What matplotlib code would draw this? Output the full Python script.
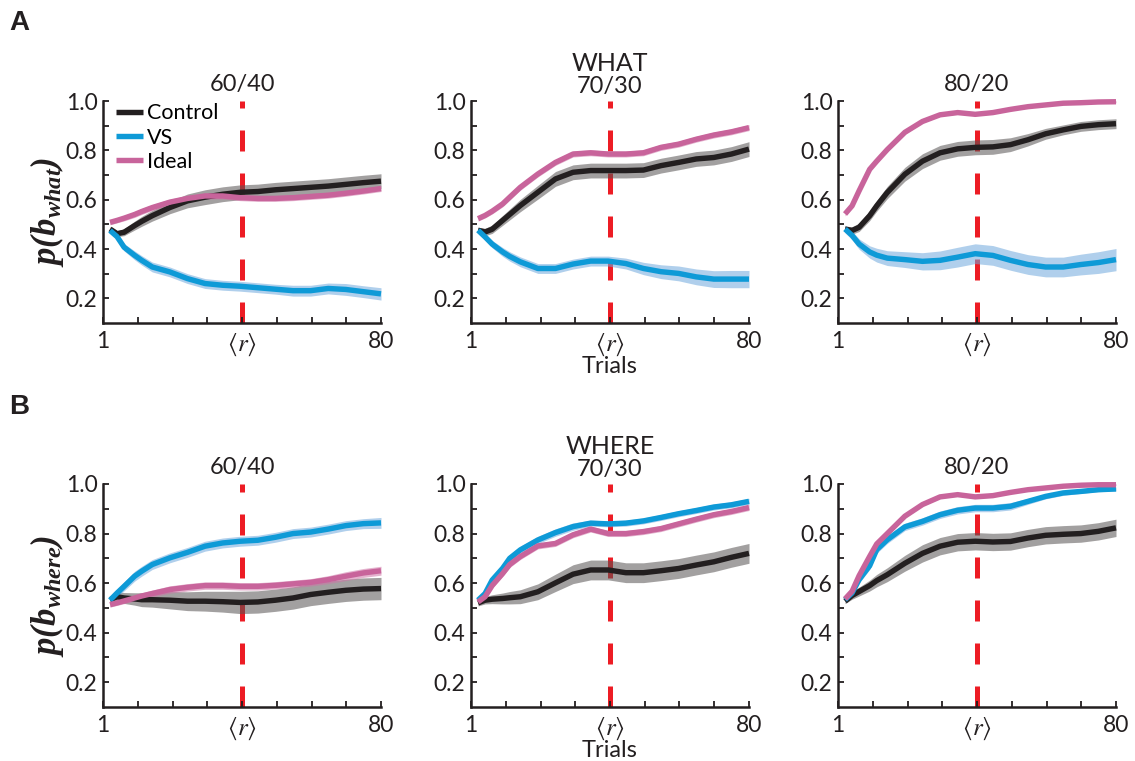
import numpy as np
import matplotlib
matplotlib.use("Agg")
import matplotlib.pyplot as plt

plt.rcParams['font.family'] = ['Lato', 'DejaVu Sans']
plt.rcParams['mathtext.fontset'] = 'custom'
plt.rcParams['mathtext.rm'] = 'STIXGeneral'
plt.rcParams['mathtext.it'] = 'STIXGeneral:italic'
plt.rcParams['mathtext.bf'] = 'Liberation Serif:bold:italic'

# ---------------- data ----------------
trials = [3, 5, 7, 10, 12, 15, 20, 25, 30, 35, 40, 45, 50, 55, 60, 65, 70, 75, 80]
series_names = ["Control", "VS", "Ideal"]
ratio_labels = ["60/40", "70/30", "80/20"]
row_titles = ["WHAT", "WHERE"]
panel_letters = ["A", "B"]
x_tick_labels = ["1", "", "", "", r"$\langle r\rangle$", "", "", "", "80"]
y_tick_labels = ["0.2", "0.4", "0.6", "0.8", "1.0"]
r_mark = 40.5

# WHAT 60/40
what_6040_control = [0.481, 0.462, 0.468, 0.495, 0.512, 0.535, 0.568, 0.595, 0.610, 0.622, 0.630, 0.633, 0.640, 0.645, 0.650, 0.655, 0.662, 0.669, 0.675]
what_6040_vs      = [0.475, 0.450, 0.407, 0.374, 0.354, 0.327, 0.307, 0.280, 0.260, 0.253, 0.249, 0.243, 0.237, 0.231, 0.231, 0.240, 0.236, 0.227, 0.218]
what_6040_ideal   = [0.508, 0.516, 0.525, 0.540, 0.552, 0.568, 0.590, 0.605, 0.615, 0.615, 0.608, 0.605, 0.605, 0.608, 0.613, 0.618, 0.626, 0.635, 0.645]
what_6040_control_sem = [0.010, 0.012, 0.014, 0.018, 0.020, 0.022, 0.025, 0.028, 0.030, 0.030, 0.030, 0.030, 0.030, 0.030, 0.030, 0.030, 0.030, 0.030, 0.030]
what_6040_vs_sem      = [0.010, 0.012, 0.015, 0.018, 0.019, 0.020, 0.020, 0.020, 0.020, 0.020, 0.020, 0.020, 0.020, 0.022, 0.022, 0.022, 0.024, 0.024, 0.025]
what_6040_ideal_sem   = [0.010, 0.010, 0.011, 0.012, 0.012, 0.012, 0.012, 0.012, 0.012, 0.012, 0.012, 0.012, 0.012, 0.012, 0.012, 0.012, 0.012, 0.012, 0.012]

# WHAT 70/30
what_7030_control = [0.476, 0.469, 0.480, 0.516, 0.540, 0.576, 0.630, 0.684, 0.711, 0.718, 0.718, 0.718, 0.720, 0.738, 0.751, 0.765, 0.771, 0.785, 0.805]
what_7030_vs      = [0.476, 0.449, 0.420, 0.388, 0.370, 0.348, 0.321, 0.321, 0.339, 0.351, 0.351, 0.341, 0.321, 0.308, 0.301, 0.287, 0.278, 0.278, 0.278]
what_7030_ideal   = [0.523, 0.536, 0.553, 0.583, 0.610, 0.650, 0.704, 0.751, 0.785, 0.790, 0.785, 0.785, 0.790, 0.812, 0.825, 0.845, 0.862, 0.875, 0.892]
what_7030_control_sem = [0.012, 0.015, 0.017, 0.020, 0.022, 0.025, 0.028, 0.030, 0.030, 0.030, 0.030, 0.030, 0.030, 0.030, 0.030, 0.030, 0.030, 0.030, 0.030]
what_7030_vs_sem      = [0.010, 0.012, 0.015, 0.018, 0.019, 0.020, 0.020, 0.020, 0.020, 0.020, 0.020, 0.022, 0.025, 0.028, 0.030, 0.032, 0.034, 0.035, 0.035]
what_7030_ideal_sem   = [0.010, 0.010, 0.011, 0.012, 0.012, 0.012, 0.012, 0.012, 0.012, 0.012, 0.012, 0.012, 0.012, 0.012, 0.012, 0.012, 0.012, 0.012, 0.012]

# WHAT 80/20
what_8020_control = [0.481, 0.475, 0.488, 0.535, 0.575, 0.629, 0.703, 0.756, 0.790, 0.806, 0.812, 0.814, 0.823, 0.843, 0.867, 0.883, 0.897, 0.904, 0.908]
what_8020_vs      = [0.481, 0.455, 0.420, 0.388, 0.375, 0.363, 0.357, 0.350, 0.354, 0.367, 0.381, 0.374, 0.354, 0.337, 0.327, 0.327, 0.337, 0.345, 0.357]
what_8020_ideal   = [0.542, 0.575, 0.636, 0.723, 0.756, 0.803, 0.873, 0.917, 0.944, 0.953, 0.946, 0.953, 0.966, 0.977, 0.984, 0.991, 0.993, 0.996, 0.997]
what_8020_control_sem = [0.012, 0.015, 0.017, 0.020, 0.022, 0.025, 0.028, 0.030, 0.030, 0.030, 0.030, 0.030, 0.028, 0.025, 0.022, 0.020, 0.020, 0.020, 0.020]
what_8020_vs_sem      = [0.015, 0.018, 0.021, 0.025, 0.028, 0.030, 0.032, 0.035, 0.038, 0.040, 0.040, 0.040, 0.040, 0.040, 0.040, 0.040, 0.042, 0.044, 0.045]
what_8020_ideal_sem   = [0.008, 0.008, 0.008, 0.008, 0.008, 0.008, 0.007, 0.006, 0.006, 0.006, 0.006, 0.006, 0.005, 0.005, 0.005, 0.004, 0.004, 0.004, 0.004]

# WHERE 60/40
where_6040_control = [0.533, 0.545, 0.540, 0.536, 0.533, 0.533, 0.531, 0.527, 0.527, 0.525, 0.522, 0.524, 0.531, 0.540, 0.554, 0.563, 0.571, 0.576, 0.578]
where_6040_vs      = [0.531, 0.560, 0.587, 0.628, 0.648, 0.675, 0.702, 0.724, 0.749, 0.762, 0.769, 0.773, 0.785, 0.800, 0.806, 0.818, 0.832, 0.840, 0.843]
where_6040_ideal   = [0.513, 0.520, 0.528, 0.540, 0.548, 0.558, 0.574, 0.583, 0.590, 0.590, 0.587, 0.587, 0.591, 0.597, 0.603, 0.614, 0.628, 0.641, 0.650]
where_6040_control_sem = [0.015, 0.020, 0.022, 0.025, 0.028, 0.030, 0.035, 0.038, 0.040, 0.042, 0.045, 0.045, 0.045, 0.045, 0.045, 0.045, 0.045, 0.045, 0.045]
where_6040_vs_sem      = [0.010, 0.015, 0.018, 0.020, 0.020, 0.020, 0.020, 0.020, 0.020, 0.020, 0.020, 0.020, 0.020, 0.020, 0.020, 0.020, 0.020, 0.020, 0.022]
where_6040_ideal_sem   = [0.010, 0.010, 0.011, 0.012, 0.013, 0.014, 0.015, 0.015, 0.015, 0.015, 0.015, 0.015, 0.015, 0.015, 0.015, 0.016, 0.018, 0.018, 0.018]

# WHERE 70/30
where_7030_control = [0.520, 0.531, 0.535, 0.538, 0.541, 0.545, 0.565, 0.601, 0.636, 0.653, 0.653, 0.642, 0.642, 0.650, 0.659, 0.673, 0.686, 0.704, 0.720]
where_7030_vs      = [0.531, 0.558, 0.612, 0.660, 0.700, 0.734, 0.774, 0.804, 0.828, 0.842, 0.839, 0.842, 0.851, 0.865, 0.880, 0.893, 0.907, 0.916, 0.930]
where_7030_ideal   = [0.524, 0.545, 0.590, 0.639, 0.675, 0.707, 0.750, 0.760, 0.795, 0.818, 0.800, 0.800, 0.808, 0.820, 0.839, 0.858, 0.876, 0.889, 0.905]
where_7030_control_sem = [0.012, 0.015, 0.018, 0.022, 0.025, 0.028, 0.032, 0.035, 0.038, 0.040, 0.040, 0.040, 0.040, 0.040, 0.040, 0.040, 0.040, 0.040, 0.040]
where_7030_vs_sem      = [0.010, 0.012, 0.014, 0.015, 0.015, 0.015, 0.015, 0.015, 0.015, 0.012, 0.012, 0.012, 0.012, 0.012, 0.012, 0.012, 0.012, 0.012, 0.012]
where_7030_ideal_sem   = [0.010, 0.010, 0.011, 0.012, 0.012, 0.012, 0.012, 0.012, 0.012, 0.012, 0.012, 0.012, 0.012, 0.012, 0.012, 0.012, 0.012, 0.012, 0.012]

# WHERE 80/20
where_8020_control = [0.527, 0.550, 0.566, 0.590, 0.610, 0.634, 0.680, 0.720, 0.749, 0.765, 0.769, 0.766, 0.768, 0.782, 0.793, 0.797, 0.800, 0.809, 0.823]
where_8020_vs      = [0.533, 0.560, 0.614, 0.670, 0.735, 0.775, 0.827, 0.849, 0.876, 0.894, 0.903, 0.903, 0.910, 0.930, 0.950, 0.964, 0.970, 0.977, 0.980]
where_8020_ideal   = [0.536, 0.567, 0.630, 0.708, 0.758, 0.800, 0.870, 0.917, 0.948, 0.957, 0.948, 0.953, 0.966, 0.977, 0.984, 0.991, 0.995, 0.997, 0.997]
where_8020_control_sem = [0.010, 0.015, 0.018, 0.022, 0.025, 0.028, 0.032, 0.035, 0.035, 0.035, 0.035, 0.035, 0.035, 0.035, 0.035, 0.035, 0.035, 0.035, 0.035]
where_8020_vs_sem      = [0.010, 0.012, 0.014, 0.015, 0.015, 0.015, 0.015, 0.015, 0.015, 0.015, 0.015, 0.015, 0.015, 0.012, 0.010, 0.010, 0.008, 0.008, 0.008]
where_8020_ideal_sem   = [0.008, 0.008, 0.008, 0.008, 0.008, 0.008, 0.007, 0.006, 0.006, 0.006, 0.006, 0.006, 0.005, 0.005, 0.005, 0.004, 0.004, 0.004, 0.004]

# ---------------- styling ----------------
line_colors = ["#231f20", "#0e9ad7", "#c8649b"]
band_colors = ["#575353", "#6fa9dd", "#cf75a7"]
red = "#ed1c24"

panels = [
    [(what_6040_control, what_6040_vs, what_6040_ideal),
     (what_6040_control_sem, what_6040_vs_sem, what_6040_ideal_sem)],
    [(what_7030_control, what_7030_vs, what_7030_ideal),
     (what_7030_control_sem, what_7030_vs_sem, what_7030_ideal_sem)],
    [(what_8020_control, what_8020_vs, what_8020_ideal),
     (what_8020_control_sem, what_8020_vs_sem, what_8020_ideal_sem)],
    [(where_6040_control, where_6040_vs, where_6040_ideal),
     (where_6040_control_sem, where_6040_vs_sem, where_6040_ideal_sem)],
    [(where_7030_control, where_7030_vs, where_7030_ideal),
     (where_7030_control_sem, where_7030_vs_sem, where_7030_ideal_sem)],
    [(where_8020_control, where_8020_vs, where_8020_ideal),
     (where_8020_control_sem, where_8020_vs_sem, where_8020_ideal_sem)],
]

W, H = 1135, 761
fig = plt.figure(figsize=(W / 100, H / 100), dpi=100)

lefts = [103, 471, 838]
width_px = 278
rows_px = [(101, 323), (484, 707)]
ylabels = [r"$\mathbf{p(b_{what})}$", r"$\mathbf{p(b_{where})}$"]

t = np.array(trials)
for r in range(2):
    top, bot = rows_px[r]
    for c in range(3):
        ax = fig.add_axes([lefts[c] / W, 1 - bot / H, width_px / W, (bot - top) / H])
        means, sems = panels[r * 3 + c]
        ax.axvline(r_mark, color=red, lw=3.6, dashes=(4.2, 4.4), zorder=1)
        handles = []
        for k in range(3):
            m = np.array(means[k]); s = np.array(sems[k])
            ax.fill_between(t, m - s, m + s, color=band_colors[k], alpha=0.55, lw=0, zorder=2)
        for k in range(3):
            m = np.array(means[k])
            h, = ax.plot(t, m, color=line_colors[k], lw=3.9, solid_capstyle='butt',
                         solid_joinstyle='round', zorder=3 + k * 0.1, clip_on=False,
                         label=series_names[k])
            handles.append(h)
        ax.set_xlim(1, 80)
        ax.set_ylim(0.1, 1.0)
        ax.set_xticks(np.linspace(1, 80, 9))
        ax.set_xticklabels(x_tick_labels)
        ax.set_yticks([0.2, 0.4, 0.6, 0.8, 1.0])
        ax.set_yticklabels(y_tick_labels)
        ax.set_yticks([0.3, 0.5, 0.7, 0.9], minor=True)
        for sp in ['top', 'right']:
            ax.spines[sp].set_visible(False)
        for sp in ['left', 'bottom']:
            ax.spines[sp].set_linewidth(1.8)
            ax.spines[sp].set_color('#231f20')
        ax.tick_params(which='both', direction='in', length=4, width=1.3, color='#231f20',
                       labelsize=16.5, labelcolor='#231f20')
        ax.tick_params(axis='x', pad=6)
        ax.tick_params(axis='y', pad=4)
        ax.get_xticklabels()[4].set_fontsize(18)
        ax.text(0.5, 1.075 if c != 1 else 1.065, ratio_labels[c], transform=ax.transAxes,
                ha='center', va='center', fontsize=17, color='#231f20')
        if c == 1:
            ax.text(0.5, 1.17, row_titles[r], transform=ax.transAxes,
                    ha='center', va='center', fontsize=18, color='#231f20')
            ax.text(0.5, -0.197, "Trials", transform=ax.transAxes,
                    ha='center', va='center', fontsize=17, color='#231f20')
        if c == 0:
            fig.text(47 / W, 1 - ((top + bot) / 2) / H, ylabels[r], rotation=90,
                     ha='center', va='center', fontsize=25, color='#231f20')
        if r == 0 and c == 0:
            ax.legend(handles=handles, loc='upper left', bbox_to_anchor=(0.045, 0.99),
                      frameon=False, fontsize=15.5, handlelength=1.3, handletextpad=0.15,
                      labelspacing=0.2, borderpad=0.0, borderaxespad=0.0)

fig.text(9 / W, 1 - 23 / H, panel_letters[0], fontsize=20, fontweight='bold',
         family='Liberation Sans', ha='left', va='center', color='#231f20')
fig.text(9 / W, 1 - 407 / H, panel_letters[1], fontsize=20, fontweight='bold',
         family='Liberation Sans', ha='left', va='center', color='#231f20')

fig.savefig("out.png", dpi=100)
